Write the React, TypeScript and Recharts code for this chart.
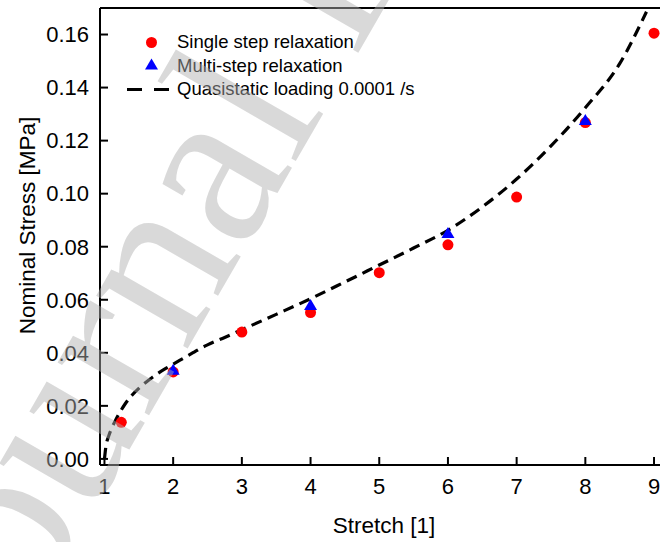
import React from 'react';
import { ComposedChart, Line, Scatter, XAxis, YAxis, Legend } from 'recharts';

// single step relaxation (red dots)
const singleX = [1.245, 2, 3, 4, 5, 6, 7, 8, 9];
const singleY = [0.0138, 0.0328, 0.0478, 0.0552, 0.0702, 0.0807, 0.0987, 0.1268, 0.1605];

// multi-step relaxation (blue triangles)
const multiX = [2, 4, 6, 8];
const multiY = [0.0336, 0.058, 0.0852, 0.1278];

// quasistatic loading curve (dashed)
const curveX = [1.0, 1.02, 1.06, 1.1, 1.16, 1.23, 1.3, 1.4, 1.5, 1.6, 1.7, 1.8, 1.9, 2.0, 2.1, 2.2, 2.3, 2.4, 2.5, 2.75, 3.0, 3.5, 4.0, 4.5, 5.0, 5.5, 6.0, 6.5, 7.0, 7.5, 8.0, 8.5, 8.89];
const curveY = [0.0, 0.0045, 0.0085, 0.0112, 0.0145, 0.0178, 0.0207, 0.024, 0.0266, 0.0288, 0.0308, 0.0326, 0.0342, 0.0357, 0.0372, 0.0387, 0.0402, 0.0417, 0.043, 0.0458, 0.0487, 0.0545, 0.0604, 0.0667, 0.0731, 0.0795, 0.0862, 0.095, 0.1055, 0.118, 0.1324, 0.149, 0.1686];

const xTicks = [1, 2, 3, 4, 5, 6, 7, 8, 9];
const yTicks = [0, 0.02, 0.04, 0.06, 0.08, 0.1, 0.12, 0.14, 0.16];

const legendLabels = ['Single step relaxation', 'Multi-step relaxation', 'Quasistatic loading 0.0001 /s'];

const singleData = singleX.map((x, i) => ({ x, y: singleY[i] }));
const multiData = multiX.map((x, i) => ({ x, y: multiY[i] }));
const curveData = curveX.map((x, i) => ({ x, y: curveY[i] }));

const FONT = '"Liberation Sans", Arial, sans-serif';
const X_DOMAIN: [number, number] = [0.935, 9.116];
const Y_DOMAIN: [number, number] = [-0.0023, 0.17];

const RedDot = (p: any) => <circle cx={p.cx} cy={p.cy} r={5.5} fill="#ff0000" />;

const BlueTriangle = (p: any) => (
  <polygon
    points={`${p.cx},${p.cy - 6} ${p.cx - 6.5},${p.cy + 5} ${p.cx + 6.5},${p.cy + 5}`}
    fill="#0000ff"
  />
);

const renderLegend = () => (
  <svg width={460} height={110} style={{ fontFamily: FONT, display: 'block' }}>
    <circle cx={151.5} cy={42.5} r={5.5} fill="#ff0000" />
    <polygon points="151.5,58.5 145,69.5 158,69.5" fill="#0000ff" />
    <line x1={127} y1={89.5} x2={170} y2={89.5} stroke="#000" strokeWidth={3.2} strokeDasharray="15 12" />
    {legendLabels.map((t, i) => (
      <text key={t} x={177} y={48.3 + i * 23.3} fontSize={18.5} fill="#000">
        {t}
      </text>
    ))}
  </svg>
);

const YTitle = () => (
  <text x={35} y={225.5} transform="rotate(-90 35 225.5)" textAnchor="middle" fontSize={22.5} fill="#000" fontFamily={FONT}>
    Nominal Stress [MPa]
  </text>
);

const XTitle = () => (
  <text x={384} y={533} textAnchor="middle" fontSize={22.5} fill="#000" fontFamily={FONT}>
    Stretch [1]
  </text>
);

export default function App() {
  const axisLine = { stroke: '#000', strokeWidth: 2 };
  const tickLine = { stroke: '#000', strokeWidth: 2 };
  const tickStyle = { fill: '#000', fontSize: 22, fontFamily: FONT };

  return (
    <div style={{ position: 'absolute', left: 0, top: 0, width: 660, height: 542, overflow: 'hidden', background: '#fff' }}>
      <ComposedChart width={672} height={542} margin={{ top: 6, right: 0, bottom: 0, left: 0 }}>
        <XAxis
          dataKey="x"
          type="number"
          domain={X_DOMAIN}
          ticks={xTicks}
          allowDataOverflow
          height={77}
          axisLine={axisLine}
          tickLine={tickLine}
          tickSize={-8}
          tickMargin={21}
          tick={tickStyle}
          label={<XTitle />}
        />
        <XAxis
          xAxisId="top"
          orientation="top"
          type="number"
          domain={X_DOMAIN}
          ticks={xTicks}
          allowDataOverflow
          height={2}
          axisLine={axisLine}
          tickLine={tickLine}
          tickSize={-8}
          tick={false}
        />
        <YAxis
          dataKey="y"
          type="number"
          domain={Y_DOMAIN}
          ticks={yTicks}
          allowDataOverflow
          width={100}
          axisLine={axisLine}
          tickLine={tickLine}
          tickSize={-8}
          tickMargin={19}
          tick={tickStyle}
          tickFormatter={(v: number) => v.toFixed(2)}
          label={<YTitle />}
        />
        <YAxis
          yAxisId="right"
          orientation="right"
          type="number"
          domain={Y_DOMAIN}
          ticks={yTicks}
          allowDataOverflow
          width={10}
          axisLine={axisLine}
          tickLine={tickLine}
          tickSize={-8}
          tick={false}
        />
        <Legend
          content={renderLegend}
          layout="horizontal"
          verticalAlign="middle"
          align="center"
          wrapperStyle={{ left: 0, top: 0, width: 460, height: 110 }}
        />
        <Scatter data={singleData} dataKey="y" shape={RedDot} isAnimationActive={false} />
        <Scatter data={multiData} dataKey="y" shape={BlueTriangle} isAnimationActive={false} />
        <Line
          data={curveData}
          dataKey="y"
          type="monotone"
          stroke="#000"
          strokeWidth={3.2}
          strokeDasharray="11 6.5"
          dot={false}
          activeDot={false}
          isAnimationActive={false}
        />
      </ComposedChart>
      <svg width={660} height={542} style={{ position: 'absolute', left: 0, top: 0, pointerEvents: 'none' }}>
        <text
          x={-13}
          y={696}
          transform="rotate(-60 -13 696)"
          fontSize={230}
          fontFamily='"Liberation Serif", "Times New Roman", serif'
          fill="#b0b0b0"
          fillOpacity={0.48}
        >
          Journal Pre-proof
        </text>
      </svg>
    </div>
  );
}
